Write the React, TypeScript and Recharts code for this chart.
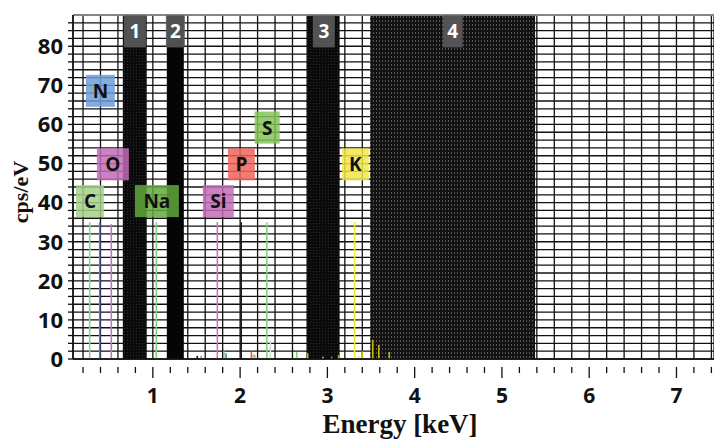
import { Bar, CartesianGrid, Cell, ComposedChart, ReferenceArea, ReferenceDot, ReferenceLine, XAxis, YAxis } from 'recharts'

// EDS spectrum: line positions (keV), heights (cps/eV) and line colours
const peakEnergy = [0.277, 0.392, 0.525, 1.041, 1.51, 1.555, 1.74, 1.815, 1.84, 2.013, 2.13, 2.15, 2.17, 2.307, 2.348, 2.65, 2.776, 2.95, 3.05, 3.13, 3.313, 3.36, 3.4, 3.52, 3.59, 3.71]
const peakHeight = [35, 35, 34.5, 35, 0.8, 0.8, 35, 2, 1.5, 35, 1.9, 1.2, 1.1, 35, 4.7, 1.8, 1.5, 0.6, 0.6, 1, 35, 0.8, 2, 4.9, 3.6, 1.8]
const peakColor = ['#86d486', '#6e6cd4', '#c86ec8', '#7ed47e', '#111111', '#d46ec8', '#d46ec8', '#7ec86e', '#7e6ed4', '#111111', '#f0604e', '#f5a090', '#7ed47e', '#7ed47e', '#d8d8d8', '#7ed47e', '#c8b400', '#d8d040', '#6aa84f', '#c8b400', '#eeea30', '#e8e070', '#c8b400', '#c8b400', '#c8b400', '#c8b400']

// shaded energy windows
const bandName = ['1', '2', '3', '4']
const bandFrom = [0.656, 1.16, 2.76, 3.49]
const bandTo = [0.93, 1.355, 3.14, 5.38]
const bandLabelAt = [0.794, 1.258, 2.959, 4.436]

// element tags
const elemName = ['N', 'O', 'C', 'Na', 'Si', 'P', 'S', 'K']
const elemEnergy = [0.399, 0.542, 0.279, 1.046, 1.75, 2.014, 2.31, 3.32]
const elemCps = [68.6, 49.8, 40.4, 40.4, 40.4, 49.8, 59.2, 49.8]
const elemColor = ['#6f9fd8', '#c26cb8', '#a4d08a', '#62a83c', '#c26cb8', '#f0645a', '#84c458', '#f2e84a']

const xDomain: [number, number] = [0.085, 7.43]
const yMax = 88
const xTicks = Array.from({ length: 37 }, (_, i) => +(0.2 * (i + 1)).toFixed(1))
const yTicks = Array.from({ length: 44 }, (_, i) => i * 2)

const boxW: Record<string, number> = { N: 29, O: 32, C: 28, Na: 44, Si: 31, P: 27, S: 25, K: 27, '1': 22, '2': 19, '3': 22, '4': 20 }

const tickFont = "'Open Sans', 'DejaVu Sans', sans-serif"
const serif = "'Liberation Serif', 'DejaVu Serif', serif"

const rows = peakEnergy.map((e, i) => ({ e, h: peakHeight[i] }))

function XTick(props: any) {
  const { x, y, payload } = props
  const v = payload.value as number
  const major = Math.abs(v - Math.round(v)) < 1e-6
  return (
    <g>
      <line x1={x} x2={x} y1={y} y2={y + (major ? 11 : 6)} stroke="#111" strokeWidth={1.3} />
      {major && (
        <text x={x} y={y + 36} textAnchor="middle" fontFamily={tickFont} fontWeight={700} fontSize={21} fill="#111">
          {Math.round(v)}
        </text>
      )}
    </g>
  )
}

function tag(label: string, fill: string, color: string, opacity: number) {
  return (p: any) => {
    const w = boxW[label]
    const h = 32
    return (
      <g>
        <rect x={p.cx - w / 2} y={p.cy - h / 2} width={w} height={h} fill={fill} fillOpacity={opacity} />
        <text x={p.cx} y={p.cy + 7} textAnchor="middle" fontFamily={tickFont} fontWeight={700} fontSize={19} fill={color}>
          {label}
        </text>
      </g>
    )
  }
}

export default function App() {
  return (
    <div style={{ position: 'absolute', left: 0, top: 0, width: 714, height: 439, background: '#fff' }}>
      <ComposedChart width={714} height={439} data={rows} margin={{ top: 15, right: 0, left: 0, bottom: 0 }}>
        <defs>
          <pattern id="dense" width={3} height={4} patternUnits="userSpaceOnUse">
            <rect width={3} height={4} fill="#121212" />
            <rect x={1} y={0} width={1} height={2} fill="#555555" />
          </pattern>
          <pattern id="dark" width={3} height={3} patternUnits="userSpaceOnUse">
            <rect width={3} height={3} fill="#0a0a0a" />
            <rect x={1} y={1} width={1} height={1} fill="#2a2a2a" />
          </pattern>
        </defs>
        <CartesianGrid stroke="#111" strokeWidth={1.3} />
        <XAxis
          type="number"
          dataKey="e"
          domain={xDomain}
          allowDataOverflow
          ticks={xTicks}
          interval={0}
          tick={<XTick />}
          tickLine={false}
          axisLine={{ stroke: '#111', strokeWidth: 1.5 }}
          height={80}
        />
        <YAxis
          type="number"
          domain={[0, yMax]}
          ticks={yTicks}
          interval={0}
          width={73}
          tickSize={5}
          tickMargin={5}
          tickLine={{ stroke: '#111', strokeWidth: 1.3 }}
          axisLine={{ stroke: '#111', strokeWidth: 1.5 }}
          tickFormatter={(v: number) => (v % 10 === 0 ? String(v) : '')}
          tick={{ fontFamily: tickFont, fontWeight: 700, fontSize: 22, fill: '#111' }}
        />
        <ReferenceLine y={yMax} stroke="#9a9a9a" strokeWidth={1.5} />
        {bandName.map((b, i) => (
          <ReferenceArea
            key={b}
            x1={bandFrom[i]}
            x2={bandTo[i]}
            y1={0}
            y2={yMax}
            fill={b === '4' ? 'url(#dense)' : b === '2' ? '#050505' : 'url(#dark)'}
            fillOpacity={1}
            stroke="none"
          />
        ))}
        <Bar dataKey="h" barSize={2} isAnimationActive={false}>
          {rows.map((r, i) => (
            <Cell key={r.e} fill={peakColor[i]} />
          ))}
        </Bar>
        {bandName.map((b, i) => (
          <ReferenceDot key={'t' + b} x={bandLabelAt[i]} y={83.8} shape={tag(b, '#5a5a5a', '#fff', 0.9)} />
        ))}
        {elemName.map((n, i) => (
          <ReferenceDot key={n} x={elemEnergy[i]} y={elemCps[i]} shape={tag(n, elemColor[i], '#111', 0.85)} />
        ))}
      </ComposedChart>
      <div
        style={{
          position: 'absolute',
          left: 21,
          top: 192,
          transform: 'translate(-50%, -50%) rotate(-90deg)',
          fontFamily: serif,
          fontWeight: 700,
          fontSize: 22,
          color: '#111',
          whiteSpace: 'nowrap',
        }}
      >
        cps/eV
      </div>
      <div
        style={{
          position: 'absolute',
          left: 400,
          top: 424,
          transform: 'translate(-50%, -50%)',
          fontFamily: serif,
          fontWeight: 700,
          fontSize: 27,
          color: '#111',
          whiteSpace: 'nowrap',
        }}
      >
        Energy [keV]
      </div>
    </div>
  )
}
